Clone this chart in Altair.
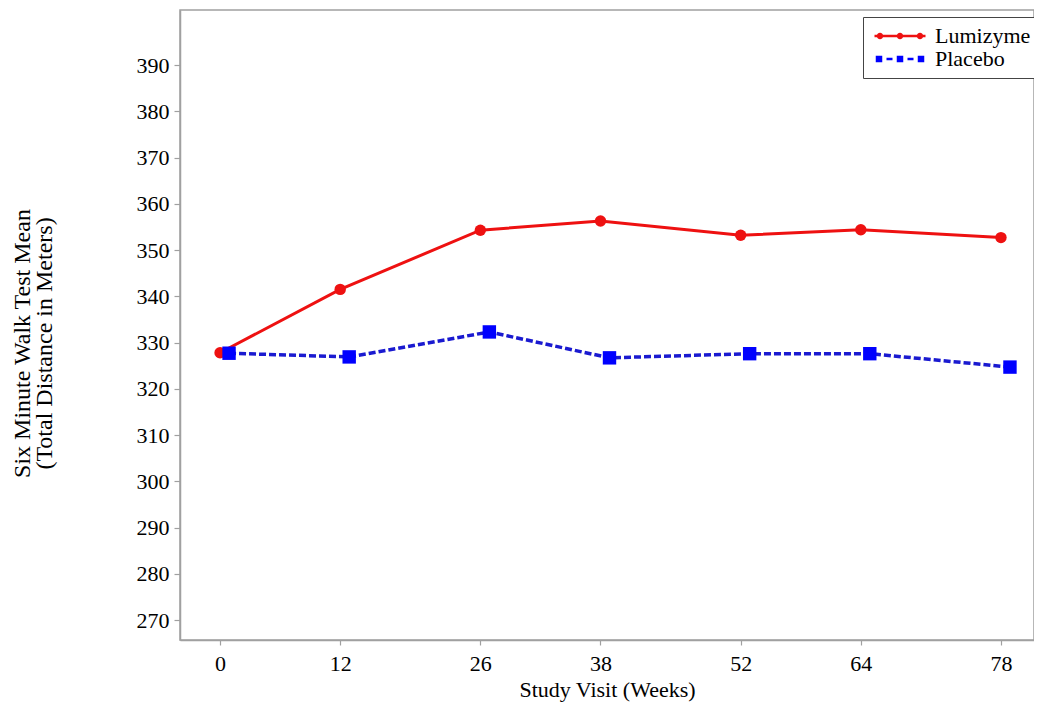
import altair as alt
import pandas as pd

weeks = [0, 12, 26, 38, 52, 64, 78]
lumizyme = [327.8, 341.5, 354.3, 356.3, 353.2, 354.4, 352.7]
placebo = [327.7, 326.9, 332.3, 326.7, 327.6, 327.6, 324.7]
series_names = ["Lumizyme", "Placebo"]
y_ticks = [270, 280, 290, 300, 310, 320, 330, 340, 350, 360, 370, 380, 390]

RED = "#ee1111"
BLUE = "#0000ff"
BLUE_LINE = "#1a1ad0"
FONT = "Liberation Serif"

df = pd.DataFrame({
    "week": weeks * 2,
    "value": lumizyme + placebo,
    "series": ["Lumizyme"] * len(weeks) + ["Placebo"] * len(weeks),
})


# legend glyph paths (unit coordinates, scaled by sqrt(size)/2 = 5px)
def circ(cx, r):
    return f"M{cx - r},0A{r},{r} 0 1,1 {cx + r},0A{r},{r} 0 1,1 {cx - r},0Z"


def rect(x0, x1, h):
    return f"M{x0},{-h}H{x1}V{h}H{x0}Z"


path_l = rect(-5.1, 5.1, 0.27) + circ(-4.0, 0.65) + circ(0, 0.65) + circ(4.0, 0.65)
path_p = (rect(-4.85, -3.55, 0.65) + rect(-0.65, 0.65, 0.65) + rect(3.55, 4.85, 0.65)
          + rect(-2.7, -1.5, 0.27) + rect(1.5, 2.7, 0.27))

xs = alt.Scale(domain=[-4, 81.3], nice=False, zero=False)
ys = alt.Scale(domain=[265.7, 401.9], nice=False, zero=False)

x_enc = alt.X("week:Q", scale=xs, axis=alt.Axis(
    values=weeks, title="Study Visit (Weeks)", tickSize=5, labelPadding=8,
    titleY=39, titleBaseline="top"))
y_enc = alt.Y("value:Q", scale=ys, axis=alt.Axis(
    values=y_ticks, title=["Six Minute Walk Test Mean", "(Total Distance in Meters)"],
    tickSize=6, labelPadding=5, titleX=-151, titleY=333, titleAngle=-90,
    titleAlign="center", titleBaseline="alphabetic", titleLineHeight=22,
    titleFontSize=24))

base = alt.Chart(df).encode(x=x_enc, y=y_enc)

lum = base.transform_filter(alt.datum.series == "Lumizyme")
pla = base.transform_filter(alt.datum.series == "Placebo")

lum_line = lum.mark_line(color=RED, strokeWidth=3)
pla_line = pla.mark_line(color=BLUE_LINE, strokeWidth=3.5, strokeDash=[7, 3], xOffset=9)
lum_pts = lum.mark_circle(color=RED, size=130, opacity=1)
pla_pts = pla.mark_square(color=BLUE, size=180, opacity=1, xOffset=9)

leg = alt.Legend(
    title=None, orient="none", legendX=683, legendY=7,
    fillColor="white", strokeColor="#444444", padding=8, rowPadding=1,
    symbolSize=100, symbolStrokeWidth=0, symbolOffset=18, labelOffset=24,
    labelFont=FONT, labelFontSize=22, labelColor="black", symbolOpacity=1,
    labelLimit=300,
)
legend_layer = base.transform_filter("false").mark_point(filled=True, opacity=1).encode(
    color=alt.Color("series:N", scale=alt.Scale(domain=series_names, range=[RED, BLUE]), legend=leg),
    shape=alt.Shape("series:N", scale=alt.Scale(domain=series_names, range=[path_l, path_p]), legend=leg),
)

chart = alt.layer(pla_line, lum_line, lum_pts, pla_pts, legend_layer).properties(
    width=854, height=630,
    autosize=alt.AutoSizeParams(type="none"),
    padding={"left": 172, "top": 2, "right": 0, "bottom": 62},
    background="white",
).configure_view(
    stroke="#a0a0a0", strokeWidth=1.5
).configure_axis(
    grid=False, domainColor="#a0a0a0", domainWidth=1.5, tickColor="#a0a0a0", tickWidth=1.2,
    labelFont=FONT, labelFontSize=22, labelColor="black",
    titleFont=FONT, titleFontSize=22, titleFontWeight="normal", titleColor="black",
)

chart.save("out.html", embed_options={"renderer": "svg", "actions": False})
